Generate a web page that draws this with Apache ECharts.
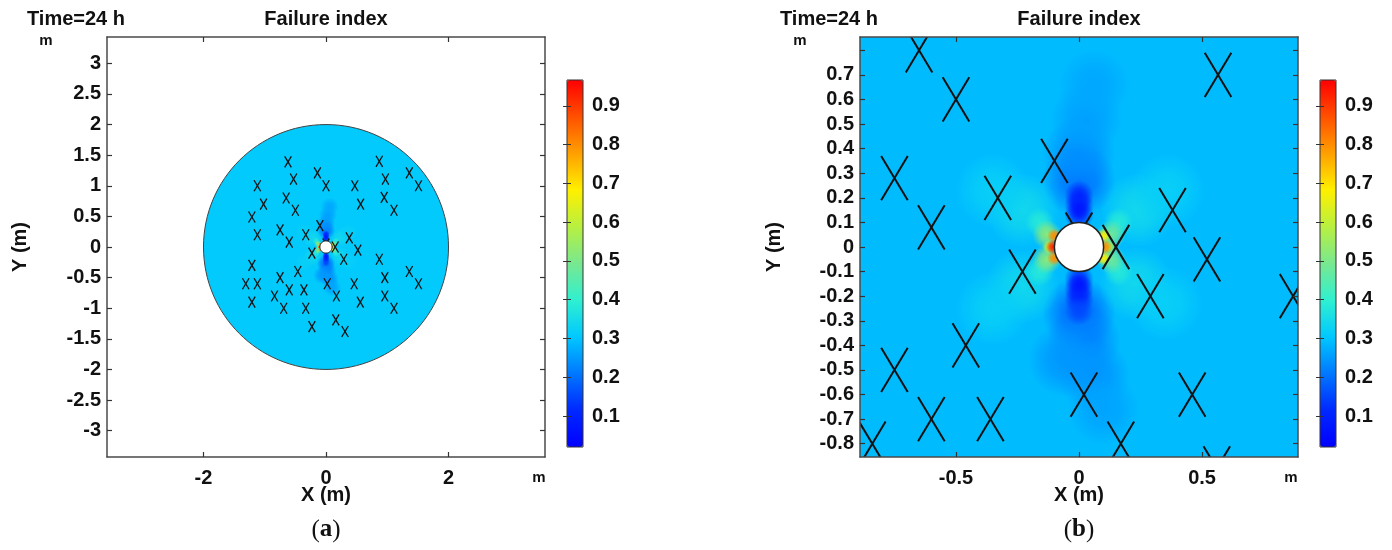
<!DOCTYPE html>
<html>
<head>
<meta charset="utf-8">
<script src="https://cdn.jsdelivr.net/npm/echarts@6/dist/echarts.min.js"></script>
<style>html,body{margin:0;padding:0;background:#fff}#chart{width:1392px;height:550px}</style>
</head>
<body>
<div id="chart"></div>
<script>
// ---------------- data ----------------
const valueRange = [0.02, 0.967];
const colorbarTicks = [0.1, 0.2, 0.3, 0.4, 0.5, 0.6, 0.7, 0.8, 0.9];
const xRangeA = [-3.575, 3.575];
const yRangeA = [-3.43, 3.43];
const xTicksA = [-2, 0, 2];
const yTicksA = [-3, -2.5, -2, -1.5, -1, -0.5, 0, 0.5, 1, 1.5, 2, 2.5, 3];
const xRangeB = [-0.89, 0.89];
const yRangeB = [-0.854, 0.854];
const xTicksB = [-0.5, 0, 0.5];
const yTicksB = [-0.8, -0.7, -0.6, -0.5, -0.4, -0.3, -0.2, -0.1, 0, 0.1, 0.2, 0.3, 0.4, 0.5, 0.6, 0.7, 0.8];
const yLabelsB = [-0.8, -0.7, -0.6, -0.5, -0.4, -0.3, -0.2, -0.1, 0, 0.1, 0.2, 0.3, 0.4, 0.5, 0.6, 0.7];
const domainRadius = 2;      // m
const holeRadius = 0.1;      // m
const farFieldA = 0.31;      // failure index, far field (panel a)
const farFieldB = 0.29;      // failure index, background of zoomed view (panel b)
// field samples [x (m), y (m), failure index]
const fieldBroad = [
  [0.00, 0.27, 0.20], [0.00, 0.38, 0.235], [0.03, 0.52, 0.255], [0.06, 0.66, 0.265],
  [0.00, -0.27, 0.19], [0.02, -0.38, 0.22], [0.06, -0.52, 0.24], [-0.06, -0.46, 0.245], [0.10, -0.66, 0.26],
  [-0.23, 0.15, 0.34], [-0.35, 0.23, 0.32], [0.24, 0.15, 0.34], [0.36, 0.23, 0.32],
  [-0.23, -0.16, 0.34], [-0.35, -0.25, 0.32], [0.23, -0.15, 0.34], [0.35, -0.23, 0.32]
];
const fieldMid = [
  [0.00, 0.13, 0.11], [0.00, 0.17, 0.05], [0.00, 0.21, 0.10],
  [0.00, -0.13, 0.11], [0.00, -0.17, 0.05], [0.00, -0.21, 0.10], [0.00, -0.26, 0.15],
  [-0.16, 0.10, 0.38], [0.16, 0.10, 0.38], [-0.16, -0.10, 0.38], [0.16, -0.10, 0.38],
  [-0.13, 0.05, 0.52], [-0.13, -0.05, 0.52], [0.13, 0.05, 0.48], [0.13, -0.05, 0.48]
];
const fieldEdge = [
  [-0.12, 0.00, 0.62], [0.12, 0.00, 0.58],
  [-0.10, 0.045, 0.80], [-0.10, -0.045, 0.80], [-0.105, 0.00, 0.93],
  [0.10, 0.045, 0.68], [0.10, -0.045, 0.68], [0.105, 0.00, 0.80]
];
// joint symbols (X marks) [x (m), y (m)]
const joints = [
  [-0.62, 1.39], [0.87, 1.40],
  [-1.12, 1.00], [-0.53, 1.11], [-0.14, 1.21], [0.00, 1.00], [0.47, 1.00], [0.97, 1.11], [1.36, 1.21], [1.51, 1.00],
  [-1.02, 0.70], [-0.65, 0.80], [-0.50, 0.60], [-1.21, 0.49], [0.565, 0.70], [0.95, 0.81], [1.11, 0.60],
  [-1.12, 0.20], [-0.75, 0.28], [-0.60, 0.08], [-0.33, 0.20], [-0.10, 0.35], [0.38, 0.15], [0.00, 0.05], [0.15, 0.00],
  [-0.23, -0.10], [0.52, -0.05], [0.29, -0.20], [0.87, -0.20],
  [-1.21, -0.30], [-0.46, -0.40], [-0.75, -0.50], [-1.31, -0.60], [-1.12, -0.60], [0.02, -0.60], [0.46, -0.60], [0.96, -0.50], [1.36, -0.40], [1.51, -0.60],
  [-0.84, -0.80], [-0.60, -0.70], [-0.36, -0.70], [0.17, -0.80], [0.56, -0.90], [0.96, -0.80],
  [-1.21, -0.90], [-0.69, -1.00], [-0.33, -1.00], [1.11, -1.00],
  [-0.23, -1.30], [0.16, -1.19], [0.31, -1.38]
];
const rainbow = ['#0000ff', '#0028ff', '#0078ff', '#00c8ff', '#30f0d0', '#78e890', '#b8f040', '#fff000', '#ffa000', '#ff5000', '#ff0000'];

// ---------------- rendering helpers ----------------
const FONT = "'Liberation Sans', Arial, sans-serif";
const SERIF = "'Liberation Serif', 'DejaVu Serif', serif";
const FRAME = '#4a4a4a';

function clipGroup(params, children, clip) {
  if (!clip) return { type: 'group', children: children };
  const cs = params.coordSys;
  return { type: 'group', clipPath: { type: 'rect', shape: { x: cs.x, y: cs.y, width: cs.width, height: cs.height } }, children: children };
}
function blobRenderer(radius, clip) {
  return function (params, api) {
    const c = api.coord([api.value(0), api.value(1)]);
    const r = api.size([radius, 0])[0];
    const col = api.visual('color');
    const el = {
      type: 'circle', shape: { cx: c[0], cy: c[1], r: r },
      style: { fill: { type: 'radial', x: 0.5, y: 0.5, r: 0.5, colorStops: [
        { offset: 0, color: col },
        { offset: 0.45, color: echarts.color.modifyAlpha(col, 0.75) },
        { offset: 1, color: echarts.color.modifyAlpha(col, 0) }] } }
    };
    return clipGroup(params, [el], clip);
  };
}
function jointRenderer(width, clip) {
  const hw = 0.054, hh = 0.09;
  return function (params, api) {
    const x = api.value(0), y = api.value(1);
    const a = api.coord([x - hw, y + hh]), b = api.coord([x + hw, y - hh]);
    const c = api.coord([x - hw, y - hh]), d = api.coord([x + hw, y + hh]);
    const st = { stroke: '#111', lineWidth: width };
    return clipGroup(params, [
      { type: 'line', shape: { x1: a[0], y1: a[1], x2: b[0], y2: b[1] }, style: st },
      { type: 'line', shape: { x1: c[0], y1: c[1], x2: d[0], y2: d[1] }, style: st }
    ], clip);
  };
}
function holeRenderer(width) {
  return function (params, api) {
    const c = api.coord([api.value(0), api.value(1)]);
    const s = api.size([holeRadius, holeRadius]);
    return { type: 'ellipse', shape: { cx: c[0], cy: c[1], rx: s[0], ry: s[1] }, style: { fill: '#fff', stroke: '#222', lineWidth: width } };
  };
}
function diskRenderer(params, api) {
  const c = api.coord([api.value(0), api.value(1)]);
  const s = api.size([domainRadius, domainRadius]);
  return { type: 'ellipse', shape: { cx: c[0], cy: c[1], rx: s[0], ry: s[1] }, style: { fill: api.visual('color'), stroke: '#444', lineWidth: 1 } };
}
function rectRenderer(params, api) {
  const cs = params.coordSys;
  return { type: 'rect', shape: { x: cs.x, y: cs.y, width: cs.width, height: cs.height }, style: { fill: api.visual('color') } };
}

const labelStyle = { fontFamily: FONT, fontWeight: 'bold', fontSize: 20, color: '#111' };
function frameAxis(base, ticks, labels, extra) {
  return Object.assign({
    type: 'value', z: 10,
    axisLine: { show: true, onZero: false, lineStyle: { color: FRAME, width: 1.5 } },
    axisTick: { show: true, inside: true, length: 5, customValues: ticks, lineStyle: { color: '#333', width: 1.2 } },
    axisLabel: labels ? Object.assign({ show: true, customValues: labels, margin: 8 }, labelStyle) : { show: false },
    splitLine: { show: false }
  }, base, extra || {});
}

const gridA = { left: 107, top: 37, width: 438, height: 420 };
const gridB = { left: 860, top: 37, width: 438, height: 420 };
const cbA = { left: 567, top: 80, width: 16, height: 367 };
const cbB = { left: 1320, top: 80, width: 16, height: 367 };

const xAxes = [
  frameAxis({ gridIndex: 0, position: 'bottom', min: xRangeA[0], max: xRangeA[1] }, xTicksA, xTicksA, { axisLabel: Object.assign({ show: true, customValues: xTicksA, margin: 11 }, labelStyle) }),
  frameAxis({ gridIndex: 0, position: 'top', min: xRangeA[0], max: xRangeA[1] }, xTicksA, null),
  frameAxis({ gridIndex: 1, position: 'bottom', min: xRangeB[0], max: xRangeB[1] }, xTicksB, xTicksB, { axisLabel: Object.assign({ show: true, customValues: xTicksB, margin: 11 }, labelStyle) }),
  frameAxis({ gridIndex: 1, position: 'top', min: xRangeB[0], max: xRangeB[1] }, xTicksB, null),
  { type: 'value', gridIndex: 2, show: false, min: 0, max: 1 },
  { type: 'value', gridIndex: 3, show: false, min: 0, max: 1 }
];
function cbAxis(grid, pos, labels) {
  return {
    type: 'value', gridIndex: grid, position: pos, min: valueRange[0], max: valueRange[1], z: 10,
    axisLine: { show: false },
    axisTick: { show: true, inside: true, length: 4, customValues: colorbarTicks, lineStyle: { color: '#333', width: 1 } },
    axisLabel: labels ? Object.assign({ show: true, customValues: colorbarTicks, margin: 9 }, labelStyle) : { show: false },
    splitLine: { show: false }
  };
}
const yAxes = [
  frameAxis({ gridIndex: 0, position: 'left', min: yRangeA[0], max: yRangeA[1] }, yTicksA, yTicksA, { axisLabel: Object.assign({ show: true, customValues: yTicksA, margin: 6 }, labelStyle) }),
  frameAxis({ gridIndex: 0, position: 'right', min: yRangeA[0], max: yRangeA[1] }, yTicksA, null),
  frameAxis({ gridIndex: 1, position: 'left', min: yRangeB[0], max: yRangeB[1] }, yTicksB, yLabelsB, { axisLabel: Object.assign({ show: true, customValues: yLabelsB, margin: 6 }, labelStyle) }),
  frameAxis({ gridIndex: 1, position: 'right', min: yRangeB[0], max: yRangeB[1] }, yTicksB, null),
  cbAxis(2, 'right', true), cbAxis(2, 'left', false),
  cbAxis(3, 'right', true), cbAxis(3, 'left', false)
];

function custom(ax, data, render, extra) {
  return Object.assign({ type: 'custom', xAxisIndex: ax, yAxisIndex: ax, data: data, renderItem: render, silent: true, animation: false, encode: { x: 0, y: 1 } }, extra || {});
}
const series = [
  // panel (a)
  custom(0, [[0, 0, farFieldA]], diskRenderer, { z: 2 }),
  custom(0, fieldBroad, blobRenderer(0.15, false), { z: 3 }),
  custom(0, fieldMid, blobRenderer(0.06, false), { z: 3 }),
  custom(0, fieldEdge, blobRenderer(0.03, false), { z: 3 }),
  custom(0, joints, jointRenderer(1.3, false), { z: 4 }),
  custom(0, [[0, 0]], holeRenderer(1), { z: 5 }),
  // panel (b)
  custom(2, [[0, 0, farFieldB]], rectRenderer, { z: 2 }),
  custom(2, fieldBroad, blobRenderer(0.15, true), { z: 3 }),
  custom(2, fieldMid, blobRenderer(0.06, true), { z: 3 }),
  custom(2, fieldEdge, blobRenderer(0.03, true), { z: 3 }),
  custom(2, joints, jointRenderer(2, true), { z: 4 }),
  custom(2, [[0, 0]], holeRenderer(1.5), { z: 5 })
];

function vmap(cb, idx) {
  return {
    type: 'continuous', min: valueRange[0], max: valueRange[1], dimension: 2, seriesIndex: idx,
    left: cb.left, top: cb.top, itemWidth: cb.width, itemHeight: cb.height, padding: 0,
    calculable: false, hoverLink: false, inRange: { color: rainbow }, z: 1
  };
}

function txt(x, y, text, size, align, extra) {
  return Object.assign({ type: 'text', x: x, y: y, silent: true,
    style: { text: text, fontFamily: FONT, fontWeight: 'bold', fontSize: size, fill: '#111', textAlign: align || 'left', textVerticalAlign: 'middle' } }, extra || {});
}
function caption(x, letter) {
  return { type: 'text', x: x, y: 530, silent: true,
    style: { text: '{n|(}{b|' + letter + '}{n|)}', rich: { n: { fontFamily: SERIF, fontSize: 25, fill: '#111' }, b: { fontFamily: SERIF, fontSize: 25, fontWeight: 'bold', fill: '#111' } },
      textAlign: 'center', textVerticalAlign: 'middle' } };
}
const graphics = [
  txt(27, 19, 'Time=24 h', 20), txt(326, 19, 'Failure index', 20, 'center'),
  txt(46, 41, 'm', 15, 'center'), txt(539, 478, 'm', 15, 'center'),
  txt(326, 495, 'X (m)', 20, 'center'), txt(20, 247, 'Y (m)', 20, 'center', { rotation: Math.PI / 2 }),
  caption(326, 'a'),
  txt(780, 19, 'Time=24 h', 20), txt(1079, 19, 'Failure index', 20, 'center'),
  txt(800, 41, 'm', 15, 'center'), txt(1291, 478, 'm', 15, 'center'),
  txt(1079, 495, 'X (m)', 20, 'center'), txt(774, 247, 'Y (m)', 20, 'center', { rotation: Math.PI / 2 }),
  caption(1079, 'b')
];

const chart = echarts.init(document.getElementById('chart'), null, { renderer: 'canvas' });
chart.setOption({
  animation: false,
  backgroundColor: '#fff',
  grid: [
    Object.assign({}, gridA), Object.assign({}, gridB),
    Object.assign({ show: true, borderColor: '#333', borderWidth: 1, backgroundColor: 'transparent', z: 5 }, cbA),
    Object.assign({ show: true, borderColor: '#333', borderWidth: 1, backgroundColor: 'transparent', z: 5 }, cbB)
  ],
  xAxis: xAxes,
  yAxis: yAxes,
  visualMap: [vmap(cbA, [0, 1, 2, 3]), vmap(cbB, [6, 7, 8, 9])],
  graphic: graphics,
  series: series
});
</script>
</body>
</html>
